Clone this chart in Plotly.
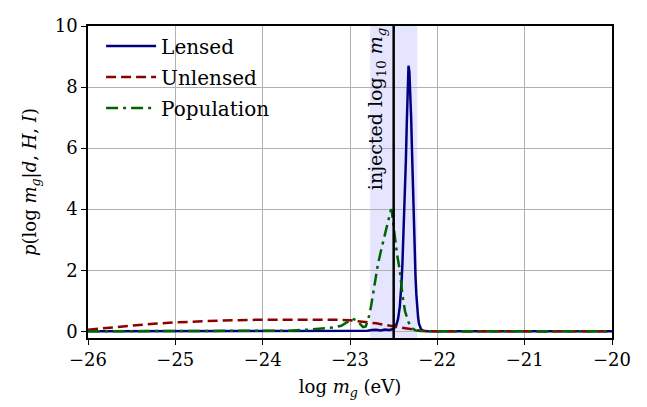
import plotly.graph_objects as go

# ---- data ----
lensed_x = [-26.0, -24.0, -23.0, -22.8, -22.75, -22.7, -22.65, -22.6, -22.55, -22.5, -22.47, -22.45,
            -22.43, -22.42, -22.41, -22.40, -22.39, -22.38, -22.37, -22.36, -22.35, -22.34, -22.33,
            -22.32, -22.31, -22.30, -22.29, -22.28, -22.27, -22.26, -22.25, -22.24, -22.23, -22.22,
            -22.21, -22.19, -22.17, -22.15, -22.1, -21.0, -20.0]
lensed_y = [0.0, 0.0, 0.01, 0.02, 0.04, 0.05, 0.03, 0.06, 0.04, 0.08, 0.2, 0.4,
            0.8, 1.1, 1.6, 2.2, 2.9, 3.7, 4.6, 5.6, 6.8, 7.9, 8.7,
            8.5, 7.9, 7.0, 5.9, 4.7, 3.6, 2.6, 1.8, 1.2, 0.74, 0.45,
            0.25, 0.09, 0.03, 0.01, 0.0, 0.0, 0.0]

unlensed_x = [-26.0, -25.75, -25.5, -25.25, -25.0, -24.5, -24.0, -23.5, -23.2, -23.0, -22.9,
              -22.8, -22.7, -22.6, -22.5, -22.4, -22.3, -22.2, -22.1, -22.0, -21.0, -20.0]
unlensed_y = [0.05, 0.12, 0.19, 0.25, 0.29, 0.35, 0.38, 0.39, 0.38, 0.36, 0.33,
              0.30, 0.26, 0.21, 0.16, 0.10, 0.05, 0.02, 0.005, 0.0, 0.0, 0.0]

population_x = [-26.0, -24.0, -23.7, -23.5, -23.3, -23.2, -23.1, -23.03, -22.97, -22.92, -22.88,
                -22.85, -22.82, -22.79, -22.76, -22.72, -22.68, -22.64, -22.6, -22.56, -22.53, -22.52,
                -22.5, -22.48, -22.46, -22.43, -22.4, -22.37, -22.33, -22.29, -22.25, -22.2,
                -22.0, -21.0, -20.0]
population_y = [0.0, 0.0, 0.02, 0.05, 0.09, 0.12, 0.18, 0.3, 0.41, 0.35, 0.22,
                0.14, 0.16, 0.4, 0.8, 1.5, 2.2, 2.7, 3.2, 3.7, 4.0, 3.9,
                3.4, 2.9, 2.5, 2.0, 1.2, 0.66, 0.3, 0.1, 0.03, 0.01,
                0.0, 0.0, 0.0]

injected = -22.5
band_half_width = 0.27

x_ticks = [-26, -25, -24, -23, -22, -21, -20]
y_ticks = [0, 2, 4, 6, 8, 10]

FONT = "DejaVu Serif"

fig = go.Figure()

fig.add_trace(go.Scatter(x=lensed_x, y=lensed_y, mode="lines", name="Lensed",
                         legendgroup="a",
                         line=dict(color="#000080", width=2.5)))
fig.add_trace(go.Scatter(x=unlensed_x, y=unlensed_y, mode="lines", name="Unlensed",
                         legendgroup="b",
                         line=dict(color="#8b0000", width=2.5, dash="10px,5px")))
fig.add_trace(go.Scatter(x=population_x, y=population_y, mode="lines", name="Population",
                         legendgroup="c",
                         line=dict(color="#006400", width=2.5, dash="12px,5px,3px,5px")))

fig.add_shape(type="rect", xref="x", yref="paper",
              x0=injected - band_half_width, x1=injected + band_half_width, y0=0, y1=1,
              fillcolor="rgba(0,0,255,0.1)", line=dict(width=0), layer="below")
fig.add_shape(type="line", xref="x", yref="paper", x0=injected, x1=injected, y0=0, y1=1,
              line=dict(color="black", width=2.5), layer="above")

fig.add_annotation(x=injected, y=10, xref="x", yref="y",
                   text="injected log<sub>10</sub> <i>m<sub>g</sub></i>",
                   textangle=-90, showarrow=False, xanchor="right", yanchor="top",
                   xshift=-3, yshift=0,
                   font=dict(family=FONT, size=19, color="black"))

axis_common = dict(showline=True, linecolor="black", linewidth=1.5, mirror=True,
                   ticks="outside", ticklen=5, tickwidth=1.2, tickcolor="black",
                   showgrid=True, gridcolor="#b0b0b0", gridwidth=1, zeroline=False,
                   ticklabeloverflow="allow",
                   tickfont=dict(family=FONT, size=18, color="black"))

fig.update_xaxes(range=[-26, -20], tickvals=x_ticks,
                 title=dict(text="log <i>m<sub>g</sub></i> (eV)", standoff=11,
                            font=dict(family=FONT, size=18, color="black")),
                 **axis_common)
fig.update_yaxes(range=[-0.22, 10], tickvals=y_ticks,
                 title=dict(text="<i>p</i>(log <i>m<sub>g</sub></i>|<i>d</i>, <i>H</i>, <i>I</i>)",
                            standoff=13, font=dict(family=FONT, size=18, color="black")),
                 **axis_common)

fig.update_layout(
    width=639, height=399,
    margin=dict(l=80, r=35, t=7, b=69),
    plot_bgcolor="white", paper_bgcolor="white",
    showlegend=True,
    legend=dict(x=0.025, y=0.998, xanchor="left", yanchor="top",
                bgcolor="rgba(255,255,255,0)", borderwidth=0,
                font=dict(family=FONT, size=20, color="black"),
                tracegroupgap=2, itemwidth=50),
)

fig.write_html("out.html")
